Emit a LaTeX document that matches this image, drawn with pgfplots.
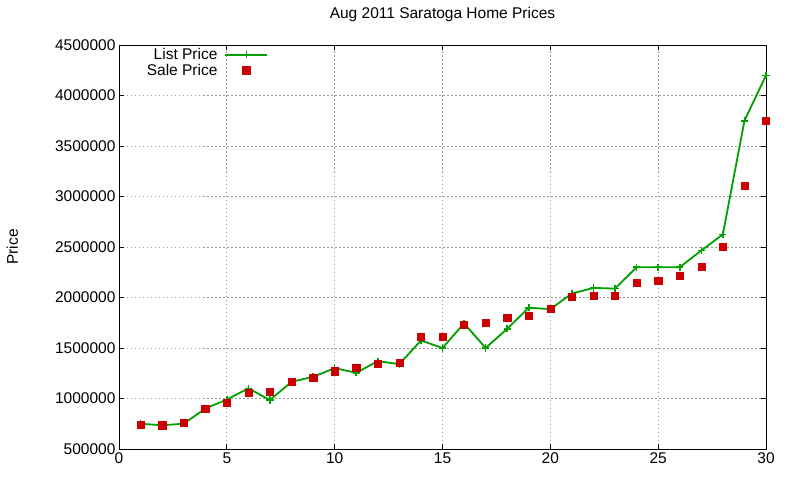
\documentclass[border=0pt]{standalone}
\usepackage{fontspec}
\setmainfont{Liberation Sans}
\usepackage{pgfplots}
\pgfplotsset{compat=1.18}
\definecolor{listgreen}{RGB}{0,160,0}
\definecolor{salered}{RGB}{204,0,0}
\begin{document}
\begin{tikzpicture}[x=1pt,y=1pt]
\useasboundingbox (-119,-31) rectangle (681,449);
\begin{axis}[
    at={(0,0)}, anchor=south west,
    scale only axis,
    width=647pt, height=404pt,
    font=\fontsize{15.5}{18}\selectfont,
    xmin=0, xmax=30, ymin=500000, ymax=4500000,
    xtick={0,5,...,30},
    ytick={500000,1000000,...,4500000},
    scaled y ticks=false,
    /pgf/number format/assume math mode=true,
    yticklabel style={/pgf/number format/fixed, /pgf/number format/1000 sep={}},
    tick align=inside, major tick length=5pt,
    tick style={black, line width=0.8pt},
    axis line style={line width=0.9pt},
    grid=major,
    grid style={gray!80, line width=0.8pt, dash pattern=on 1.5pt off 2.5pt},
    title={Aug 2011 Saratoga Home Prices},
    title style={at={(axis description cs:0.5,1)}, anchor=center, yshift=25pt},
    ylabel={Price},
    ylabel style={at={(axis description cs:-0.165,0.5)}, anchor=center},
    legend style={at={(axis description cs:0.236,0.997)}, anchor=north east,
        draw=none, fill=none, legend cell align=right,
        nodes={inner ysep=0pt, text height=11.5pt, text depth=1pt},
        row sep=3pt,
        /tikz/every odd column/.append style={column sep=5pt}},
    legend plot pos=right,
    legend image code/.code={\draw[line width=2pt, mark repeat=2, mark phase=2]
        plot coordinates {(0pt,0pt)(21pt,0pt)(42pt,0pt)};},
]
\addplot[color=listgreen, line width=1.8pt, mark=+, mark size=3.6pt,
    mark options={line width=1.6pt}]
    coordinates {
    (1,750000)(2,735000)(3,750000)(4,900000)(5,990000)
    (6,1100000)(7,985000)(8,1165000)(9,1215000)(10,1300000)
    (11,1255000)(12,1370000)(13,1340000)(14,1575000)(15,1500000)
    (16,1745000)(17,1500000)(18,1690000)(19,1899000)(20,1885000)
    (21,2039000)(22,2095000)(23,2088000)(24,2300000)(25,2300000)
    (26,2300000)(27,2465000)(28,2625000)(29,3750000)(30,4200000)
    };
\addlegendentry{List Price}
\addplot[only marks, color=salered, mark=square*, mark size=3.6pt,
    mark options={draw=none, fill=salered}]
    coordinates {
    (1,740000)(2,735000)(3,757000)(4,899000)(5,958000)
    (6,1057000)(7,1064000)(8,1166000)(9,1205000)(10,1270000)
    (11,1302000)(12,1345000)(13,1351000)(14,1610000)(15,1614000)
    (16,1732000)(17,1752000)(18,1801000)(19,1820000)(20,1889000)
    (21,2007000)(22,2016000)(23,2016000)(24,2144000)(25,2165000)
    (26,2214000)(27,2303000)(28,2500000)(29,3105000)(30,3750000)
    };
\addlegendentry{Sale Price}
\end{axis}
\end{tikzpicture}
\end{document}
